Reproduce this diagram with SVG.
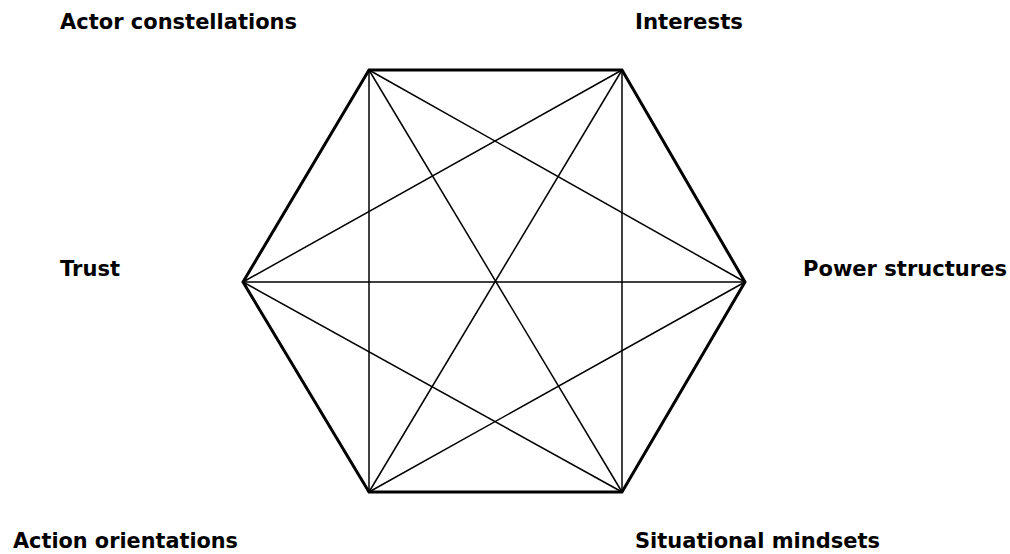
<svg xmlns="http://www.w3.org/2000/svg" width="1010" height="554" viewBox="0 0 1010 554">
<style>
.lbl{font-family:"DejaVu Sans",Verdana,sans-serif;font-weight:bold;font-size:21px;fill:#000}
.edge{stroke:#000;stroke-width:3;fill:none;stroke-linejoin:miter}
.diag{stroke:#000;stroke-width:1.5;fill:none}
</style>
<rect width="1010" height="554" fill="#fff"/>
<g id="connectors">
<polygon class="edge" points="369,70 622,70 745,282 622,492 369,492 243,282"/>
<line class="diag" x1="369" y1="70" x2="369" y2="492"/>
<line class="diag" x1="622" y1="70" x2="622" y2="492"/>
<line class="diag" x1="243" y1="282" x2="745" y2="282"/>
<line class="diag" x1="369" y1="70" x2="745" y2="282"/>
<line class="diag" x1="369" y1="70" x2="622" y2="492"/>
<line class="diag" x1="622" y1="70" x2="243" y2="282"/>
<line class="diag" x1="622" y1="70" x2="369" y2="492"/>
<line class="diag" x1="369" y1="492" x2="745" y2="282"/>
<line class="diag" x1="622" y1="492" x2="243" y2="282"/>
</g>
<g id="node-actor-constellations"><text class="lbl" x="60" y="29" textLength="237" lengthAdjust="spacingAndGlyphs">Actor constellations</text></g>
<g id="node-interests"><text class="lbl" x="635" y="29" textLength="108" lengthAdjust="spacingAndGlyphs">Interests</text></g>
<g id="node-trust"><text class="lbl" x="60" y="276" textLength="60" lengthAdjust="spacingAndGlyphs">Trust</text></g>
<g id="node-power-structures"><text class="lbl" x="803" y="276" textLength="204" lengthAdjust="spacingAndGlyphs">Power structures</text></g>
<g id="node-action-orientations"><text class="lbl" x="13" y="548" textLength="225" lengthAdjust="spacingAndGlyphs">Action orientations</text></g>
<g id="node-situational-mindsets"><text class="lbl" x="635" y="548" textLength="245" lengthAdjust="spacingAndGlyphs">Situational mindsets</text></g>
</svg>
